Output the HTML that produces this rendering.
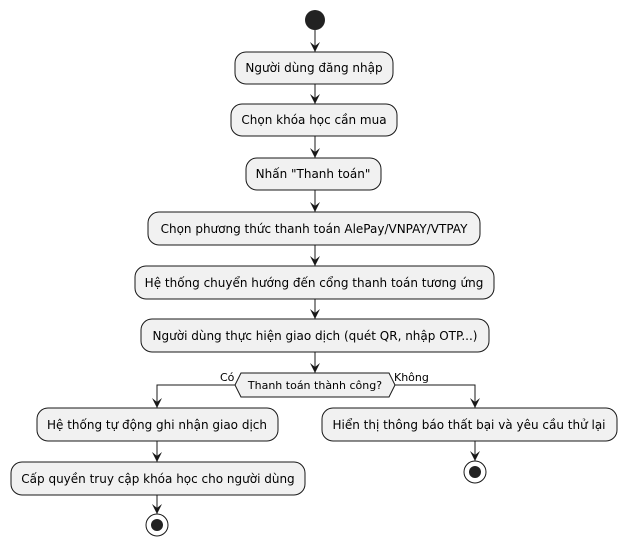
<!DOCTYPE html>
<html><head><meta charset="utf-8"><style>
html,body{margin:0;padding:0;background:#fff;}
svg text{font-family:"DejaVu Sans","Liberation Sans",sans-serif;font-size:12px;fill:#000;}
</style></head><body>
<svg width="627" height="547" viewBox="0 0 627 547" xmlns="http://www.w3.org/2000/svg">
<defs><marker id="a" markerWidth="12" markerHeight="12" refX="10" refY="5" orient="auto" markerUnits="userSpaceOnUse">
<path d="M0,0 L10,5 L0,10 L4,5 Z" fill="#181818"/></marker></defs>
<g stroke="#181818" stroke-width="1" fill="#F1F1F1">
<circle cx="315" cy="20" r="10" fill="#222" stroke="none"/>
<rect x="235" y="52" width="158" height="32" rx="11"/>
<rect x="231" y="104" width="166" height="32" rx="11"/>
<rect x="246" y="158" width="135" height="32" rx="11"/>
<rect x="148" y="212" width="332" height="33" rx="11"/>
<rect x="135" y="266" width="359" height="33" rx="11"/>
<rect x="141" y="319" width="348" height="33" rx="11"/>
<polygon points="235,385 241,373 389,373 395,385 389,397 241,397"/>
<rect x="37" y="408" width="241" height="33" rx="11"/>
<rect x="11" y="462" width="294" height="33" rx="11"/>
<rect x="322" y="408" width="295" height="33" rx="11"/>
<circle cx="157" cy="525" r="11" fill="#fff"/>
<circle cx="157" cy="525" r="6" fill="#222" stroke="none"/>
<circle cx="475" cy="472" r="11" fill="#fff"/>
<circle cx="475" cy="472" r="6" fill="#222" stroke="none"/>
</g>
<g stroke="#181818" stroke-width="1" fill="none">
<line x1="315" y1="30" x2="315" y2="52" marker-end="url(#a)"/>
<line x1="315" y1="84" x2="315" y2="104" marker-end="url(#a)"/>
<line x1="315" y1="136" x2="315" y2="158" marker-end="url(#a)"/>
<line x1="315" y1="190" x2="315" y2="212" marker-end="url(#a)"/>
<line x1="315" y1="245" x2="315" y2="266" marker-end="url(#a)"/>
<line x1="315" y1="299" x2="315" y2="319" marker-end="url(#a)"/>
<line x1="315" y1="352" x2="315" y2="373" marker-end="url(#a)"/>
<polyline points="235,385 157,385 157,408" marker-end="url(#a)"/>
<polyline points="395,385 475,385 475,408" marker-end="url(#a)"/>
<line x1="157" y1="441" x2="157" y2="462" marker-end="url(#a)"/>
<line x1="157" y1="495" x2="157" y2="514" marker-end="url(#a)"/>
<line x1="475" y1="441" x2="475" y2="461" marker-end="url(#a)"/>
</g>
<g text-anchor="middle">
<text x="314" y="72">Người dùng đăng nhập</text>
<text x="314" y="124">Chọn khóa học cần mua</text>
<text x="313" y="178">Nhấn "Thanh toán"</text>
<text x="314" y="233">Chọn phương thức thanh toán AlePay/VNPAY/VTPAY</text>
<text x="314" y="287">Hệ thống chuyển hướng đến cổng thanh toán tương ứng</text>
<text x="315" y="340">Người dùng thực hiện giao dịch (quét QR, nhập OTP...)</text>
<text x="315" y="389" style="font-size:11px">Thanh toán thành công?</text>
<text x="157" y="429">Hệ thống tự động ghi nhận giao dịch</text>
<text x="158" y="483">Cấp quyền truy cập khóa học cho người dùng</text>
<text x="469" y="429">Hiển thị thông báo thất bại và yêu cầu thử lại</text>
</g>
<text x="220" y="381" style="font-size:11px">Có</text>
<text x="394" y="381" style="font-size:11px">Không</text>
</svg>
</body></html>
